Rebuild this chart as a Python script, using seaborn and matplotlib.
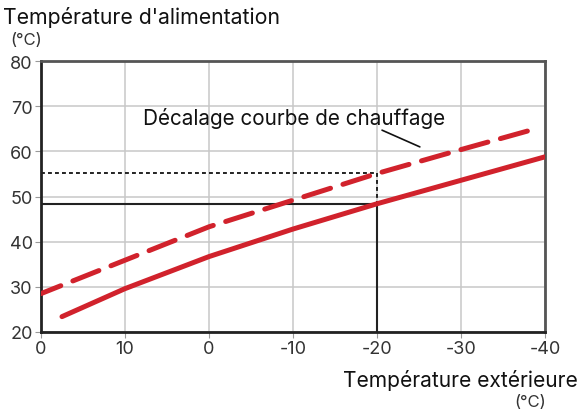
import pandas as pd
import seaborn as sns
import matplotlib.pyplot as plt

# Outdoor temperature vs supply temperature
outdoor_normal = [17.5, 10, 0, -10, -20, -30, -40]
supply_normal = [23.4, 29.6, 36.7, 42.8, 48.4, 53.6, 58.8]

outdoor_shift = [20, 10, 0, -10, -20, -30, -37.9]
supply_shift = [28.5, 35.9, 43.3, 49.2, 55.1, 60.4, 64.5]

x_ticks = [20, 10, 0, -10, -20, -30, -40]
x_tick_labels = ['0', '10', '0', '-10', '-20', '-30', '-40']
y_ticks = [20, 30, 40, 50, 60, 70, 80]

# operating point
point_x = -20
point_solid = 48.3
point_dashed = 55.3

red = '#d1222c'

sns.set_theme(style='white')
plt.rcParams['font.family'] = ['Inter', 'DejaVu Sans']

fig = plt.figure(figsize=(5.79, 4.14), dpi=100)
ax = fig.add_axes([0.0708, 0.1957, 0.8705, 0.6543])

normal = pd.DataFrame({'outdoor': outdoor_normal, 'supply': supply_normal})
shifted = pd.DataFrame({'outdoor': outdoor_shift, 'supply': supply_shift})

sns.lineplot(data=normal, x='outdoor', y='supply', ax=ax, color=red, lw=3.6,
             solid_capstyle='round', zorder=4)
sns.lineplot(data=shifted, x='outdoor', y='supply', ax=ax, color=red, lw=3.6,
             dashes=False, zorder=4)
ax.lines[-1].set_dashes([5.6, 2.6])
ax.lines[-1].set_dash_capstyle('round')

# guide lines for the operating point
ax.plot([20, point_x], [point_solid, point_solid], color='#222222', lw=1.5, zorder=3)
ax.plot([point_x, point_x], [20, point_solid], color='#222222', lw=1.5, zorder=3)
ax.plot([20, point_x], [point_dashed, point_dashed], color='#222222', lw=1.4,
        ls=(0, (2, 1.6)), zorder=3)
ax.plot([point_x, point_x], [point_dashed, point_solid], color='#222222', lw=1.4,
        ls=(0, (2, 1.6)), zorder=3)

# annotation
ax.text(-10.1, 67.6, 'Décalage courbe de chauffage', ha='center', va='center',
        fontsize=14.9, color='#111111')
ax.plot([-20.6, -25.1], [64.7, 61.0], color='#111111', lw=1.2)

ax.set_xlim(20, -40)
ax.set_ylim(20, 80)
ax.set_xticks(x_ticks)
ax.set_xticklabels(x_tick_labels)
ax.set_yticks(y_ticks)
ax.grid(True, color='#c8c8c8', lw=1.1)
ax.set_axisbelow(True)
ax.set_xlabel('')
ax.set_ylabel('')
ax.tick_params(axis='both', labelsize=13, colors='#333333', length=4, width=0.8,
               direction='out', pad=2, bottom=True, left=True)
ax.tick_params(axis='both', color='#999999')

for side in ['left', 'bottom']:
    ax.spines[side].set_color('#222222')
    ax.spines[side].set_linewidth(2)
for side in ['top', 'right']:
    ax.spines[side].set_color('#555555')
    ax.spines[side].set_linewidth(2)

fig.text(0.005, 0.958, "Température d'alimentation", fontsize=15.3, ha='left',
         va='center', color='#111111')
fig.text(0.017, 0.902, '(°C)', fontsize=12, ha='left', va='center', color='#333333')
fig.text(0.997, 0.082, 'Température extérieure', fontsize=15.1, ha='right',
         va='center', color='#111111')
fig.text(0.943, 0.027, '(°C)', fontsize=12, ha='right', va='center', color='#333333')

fig.savefig('out.png', dpi=100)
